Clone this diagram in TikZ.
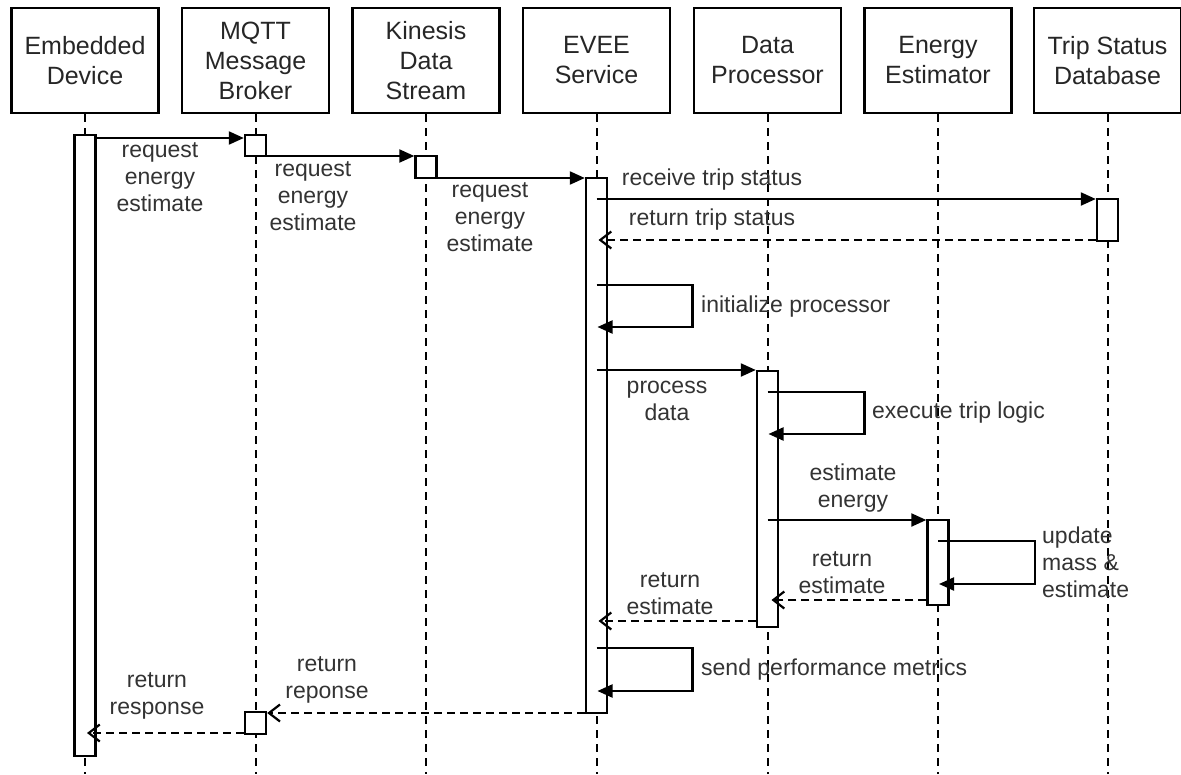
\documentclass[tikz,border=0pt]{standalone}
\usepackage{fontspec}
\setmainfont{Liberation Sans}
\usetikzlibrary{arrows.meta,positioning}

\begin{document}
\begin{tikzpicture}[x=1pt, y=-1pt, >={Triangle[length=15pt,width=13pt]}]
    % Styles
    \tikzstyle{hdr} = [draw, line width=2.4pt, minimum width=147pt, minimum height=105pt, align=center, font=\fontsize{25}{30}\selectfont, text=black!85]
    \tikzstyle{life} = [line width=2pt, dash pattern=on 8pt off 6pt]
    \tikzstyle{actbar} = [draw, fill=white, line width=2.4pt, minimum width=21pt, inner sep=0pt]
    \tikzstyle{msg} = [line width=2.2pt, ->]
    \tikzstyle{ret} = [line width=2.2pt, dash pattern=on 8pt off 5pt, -{Straight Barb[length=11pt,width=17pt]}]
    \tikzstyle{lbl} = [align=center, inner sep=0pt, font=\fontsize{23}{27}\selectfont, text=black!80]

    \useasboundingbox (0,0) rectangle (1181,774);

    % Participants (header boxes) along the top
    \node[hdr] (dev) at (85, 60.5) {Embedded\\Device};
    \node[hdr] (mqtt) at (255.5, 60.5) {MQTT\\Message\\Broker};
    \node[hdr] (kin) at (426, 60.5) {Kinesis\\Data\\Stream};
    \node[hdr] (evee) at (596.5, 60.5) {EVEE\\Service};
    \node[hdr] (proc) at (767.5, 60.5) {Data\\Processor};
    \node[hdr] (est) at (938, 60.5) {Energy\\Estimator};
    \node[hdr] (db) at (1107.5, 60.5) {Trip Status\\Database};

    % Lifelines down to the bottom edge
    \draw[life] (dev.south) -- (dev.south |- 0,774);
    \draw[life] (mqtt.south) -- (mqtt.south |- 0,774);
    \draw[life] (kin.south) -- (kin.south |- 0,774);
    \draw[life] (evee.south) -- (evee.south |- 0,774);
    \draw[life] (proc.south) -- (proc.south |- 0,774);
    \draw[life] (est.south) -- (est.south |- 0,774);
    \draw[life] (db.south) -- (db.south |- 0,774);

    % Activation bars
    \node[actbar, minimum height=621pt] (devbar) at (85, 445.5) {};
    \node[actbar, minimum height=21pt] (mqttbar) at (255.5, 145.5) {};
    \node[actbar, minimum height=22pt] (kinbar) at (426, 167) {};
    \node[actbar, minimum height=535pt] (eveebar) at (596.5, 445.5) {};
    \node[actbar, minimum height=42pt] (dbbar) at (1107.5, 220) {};
    \node[actbar, minimum height=256pt] (procbar) at (767.5, 499) {};
    \node[actbar, minimum height=85pt] (estbar) at (938, 562.5) {};
    \node[actbar, minimum height=22pt] (mqttbar2) at (255.5, 723) {};

    % Request chain: device -> broker -> stream -> service
    \draw[msg] (devbar.east |- 0,138) -- (mqttbar.west |- 0,138);
    \node[lbl] (req1) at (160, 177) {request\\energy\\estimate};
    \draw[msg] (mqttbar.east |- 0,156) -- (kinbar.west |- 0,156);
    \node[lbl] (req2) at (313, 196) {request\\energy\\estimate};
    \draw[msg] (kinbar.east |- 0,178) -- (eveebar.west |- 0,178);
    \node[lbl] (req3) at (490, 217) {request\\energy\\estimate};

    % Trip status lookup
    \draw[msg] (eveebar.center |- 0,199) -- (dbbar.west |- 0,199);
    \node[lbl] (recv) at (712, 180) {receive trip status};
    \draw[ret] (dbbar.west |- 0,240) -- ([xshift=2pt]eveebar.center |- 0,240);
    \node[lbl] (rets) at (712, 220) {return trip status};

    % Self call: initialize processor
    \draw[msg] (eveebar.center |- 0,285) -- ++(96,0) -- ++(0,42) -- ([xshift=1pt]eveebar.center |- 0,327);
    \node[lbl, anchor=west] (init) at (701, 307) {initialize processor};

    % Service -> processor
    \draw[msg] (eveebar.center |- 0,370) -- (procbar.west |- 0,370);
    \node[lbl] (pdata) at (667, 401) {process\\data};

    % Self call: trip logic
    \draw[msg] (procbar.center |- 0,392) -- ++(97,0) -- ++(0,42) -- ([xshift=1pt]procbar.center |- 0,434);
    \node[lbl, anchor=west] (logic) at (872, 413) {execute trip logic};

    % Processor -> estimator
    \draw[msg] (procbar.center |- 0,520) -- (estbar.west |- 0,520);
    \node[lbl] (esten) at (853, 488) {estimate\\energy};

    % Self call: update mass
    \draw[msg] (estbar.center |- 0,541) -- ++(97,0) -- ++(0,43) -- ([xshift=1pt]estbar.center |- 0,584);
    \node[lbl, anchor=west, align=left] (upd) at (1042, 562) {update\\mass \&\\estimate};

    % Returns of the estimate
    \draw[ret] (estbar.west |- 0,600) -- ([xshift=4pt]procbar.center |- 0,600);
    \node[lbl] (rete1) at (842, 573) {return\\estimate};
    \draw[ret] (procbar.west |- 0,621) -- ([xshift=2pt]eveebar.center |- 0,621);
    \node[lbl] (rete2) at (670, 594) {return\\estimate};

    % Self call: metrics
    \draw[msg] (eveebar.center |- 0,648) -- ++(96,0) -- ++(0,43) -- ([xshift=1pt]eveebar.center |- 0,691);
    \node[lbl, anchor=west] (perf) at (701, 670) {send performance metrics};

    % Responses back to the device
    \draw[ret] (eveebar.west |- 0,713) -- (mqttbar2.east |- 0,713);
    \node[lbl] (rrep) at (327, 680) {return\\reponse};
    \draw[ret] (mqttbar2.west |- 0,733) -- ([xshift=2pt]devbar.center |- 0,733);
    \node[lbl] (rresp) at (157, 696) {return\\response};
\end{tikzpicture}
\end{document}
